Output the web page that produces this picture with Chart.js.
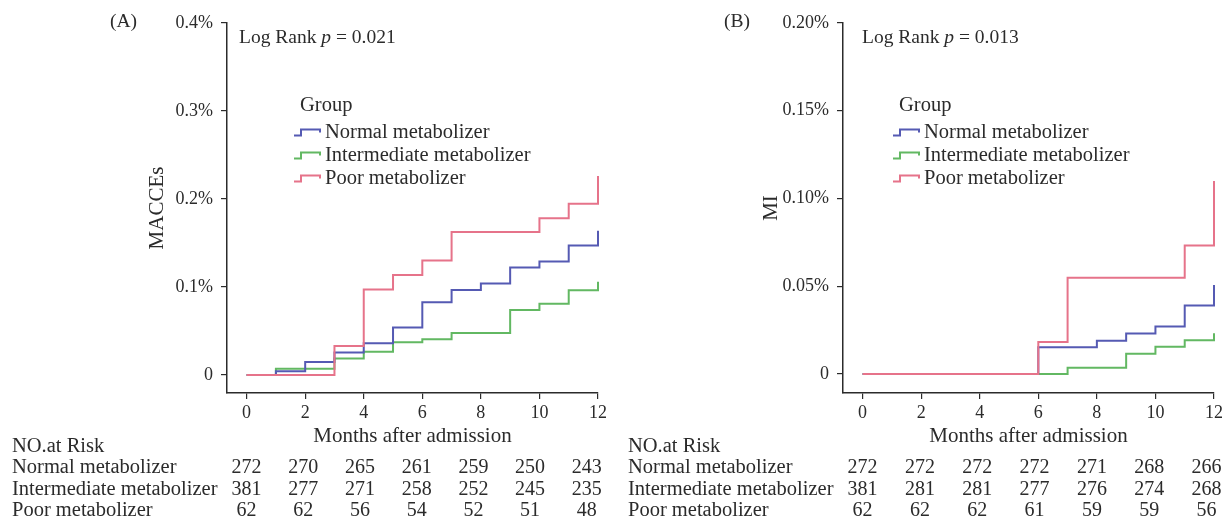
<!DOCTYPE html>
<html>
<head>
<meta charset="utf-8">
<title>MACCEs and MI by metabolizer group</title>
<script src="https://cdn.jsdelivr.net/npm/chart.js@4.4.1/dist/chart.umd.min.js"></script>
<style>
  html, body { margin: 0; padding: 0; background: #fff; }
  #wrap { position: relative; width: 1226px; height: 521px; }
  canvas { position: absolute; top: 0; }
  #chartA { left: 0; }
  #chartB { left: 613px; }
</style>
</head>
<body>
<div id="wrap">
  <canvas id="chartA" width="613" height="521"></canvas>
  <canvas id="chartB" width="613" height="521"></canvas>
</div>
<script>
// --- data (values in %) ---
const months = [0, 1, 2, 3, 4, 5, 6, 7, 8, 9, 10, 11, 12];
const groupNames = ["Normal metabolizer", "Intermediate metabolizer", "Poor metabolizer"];

// (A) MACCEs cumulative incidence
const maccesNormal = [0, 0.0042, 0.0148, 0.0254, 0.036, 0.0538, 0.0826, 0.0966, 0.104, 0.122, 0.129, 0.147, 0.164];
const maccesInter  = [0, 0.0072, 0.0072, 0.0186, 0.0265, 0.0371, 0.0405, 0.0477, 0.0477, 0.0739, 0.081, 0.0962, 0.106];
const maccesPoor   = [0, 0, 0, 0.033, 0.097, 0.1136, 0.130, 0.1625, 0.1625, 0.1625, 0.178, 0.1947, 0.226];

// (B) MI cumulative incidence
const miNormal = [0, 0, 0, 0, 0, 0, 0.0152, 0.0152, 0.0189, 0.0231, 0.0271, 0.039, 0.0508];
const miInter  = [0, 0, 0, 0, 0, 0, 0, 0.0036, 0.0036, 0.0116, 0.0155, 0.0193, 0.0233];
const miPoor   = [0, 0, 0, 0, 0, 0, 0.0182, 0.0549, 0.0549, 0.0549, 0.0549, 0.0733, 0.110];

// tick labels
const xTicks = [0, 2, 4, 6, 8, 10, 12];
const maccesTicks = [0, 0.1, 0.2, 0.3, 0.4];
const miTicks = [0, 0.05, 0.10, 0.15, 0.20];

// numbers at risk
const riskMonths = [0, 2, 4, 6, 8, 10, 12];
const maccesRiskNormal = [272, 270, 265, 261, 259, 250, 243];
const maccesRiskInter  = [381, 277, 271, 258, 252, 245, 235];
const maccesRiskPoor   = [62, 62, 56, 54, 52, 51, 48];
const miRiskNormal = [272, 272, 272, 272, 271, 268, 266];
const miRiskInter  = [381, 281, 281, 277, 276, 274, 268];
const miRiskPoor   = [62, 62, 62, 61, 59, 59, 56];

const colors = ["#555ab3", "#62b862", "#e6738a"];
const FONT = "'Liberation Serif', 'Times New Roman', serif";
const INK = "#2b2b2b";

function toPoints(vals) {
    return months.map((m, i) => ({ x: m, y: vals[i] }));
}

// draws panel letter, log rank text, legend and the at-risk table
const decorPlugin = {
    id: "decor",
    afterDraw(chart) {
        const o = chart.options.plugins.decor;
        const ctx = chart.ctx;
        const xs = chart.scales.x;
        ctx.save();
        ctx.fillStyle = INK;
        ctx.textBaseline = "middle";
        ctx.textAlign = "left";

        ctx.font = "19.5px " + FONT;
        ctx.fillText(o.panel, o.panelX, 22);

        // Log Rank p = ...
        let x = o.logX;
        ctx.fillText("Log Rank ", x, 38);
        x += ctx.measureText("Log Rank ").width;
        ctx.font = "italic 19.5px " + FONT;
        ctx.fillText("p", x, 38);
        x += ctx.measureText("p").width;
        ctx.font = "19.5px " + FONT;
        ctx.fillText(" = " + o.pValue, x, 38);

        // legend
        ctx.font = "20.5px " + FONT;
        ctx.fillText("Group", o.legX + 6, 105.5);
        groupNames.forEach((name, i) => {
            const cy = 132.5 + i * 23;
            const lx = o.legX;
            ctx.strokeStyle = colors[i];
            ctx.lineWidth = 2;
            ctx.beginPath();
            ctx.moveTo(lx, cy + 3);
            ctx.lineTo(lx + 7, cy + 3);
            ctx.lineTo(lx + 7, cy - 3);
            ctx.lineTo(lx + 26, cy - 3);
            ctx.lineTo(lx + 26, cy);
            ctx.stroke();
            ctx.fillText(name, lx + 31, cy);
        });

        // numbers at risk (columns sit slightly inside the month ticks)
        ctx.fillText("NO.at Risk", o.tableX, 447);
        const x0 = xs.getPixelForValue(0);
        o.risk.forEach((row, i) => {
            const cy = 468 + i * 21.5;
            ctx.textAlign = "left";
            ctx.font = "20.5px " + FONT;
            ctx.fillText(groupNames[i], o.tableX, cy);
            ctx.textAlign = "center";
            ctx.font = "20px " + FONT;
            row.forEach((n, j) => {
                const px = x0 + (xs.getPixelForValue(riskMonths[j]) - x0) * o.colSqueeze;
                ctx.fillText(String(n), px, cy);
            });
        });
        ctx.restore();
    }
};

function makeChart(id, cfg) {
    const ds = [cfg.normal, cfg.inter, cfg.poor].map((vals, i) => ({
        label: groupNames[i],
        data: toPoints(vals),
        borderColor: colors[i],
        borderWidth: 2,
        pointRadius: 0,
        stepped: true,
        fill: false,
        clip: false,
        order: [1, 2, 0][i]
    }));

    return new Chart(document.getElementById(id), {
        type: "line",
        data: { datasets: ds },
        plugins: [decorPlugin],
        options: {
            responsive: false,
            animation: false,
            layout: { padding: { left: 0, top: 23, right: cfg.padRight, bottom: 72 } },
            plugins: {
                legend: { display: false },
                tooltip: { enabled: false },
                decor: cfg.decor
            },
            scales: {
                x: {
                    type: "linear",
                    min: -0.67,
                    max: 12,
                    afterBuildTicks: s => { s.ticks = xTicks.map(v => ({ value: v })); },
                    afterFit: s => { s.height = 56; },
                    grid: { display: true, drawOnChartArea: false, tickLength: 6, color: INK, lineWidth: 1.2 },
                    border: { display: true, color: INK, width: 1.5 },
                    ticks: { color: INK, padding: 3, maxRotation: 0, font: { family: FONT, size: 18 } },
                    title: { display: true, text: "Months after admission", color: INK, padding: 0,
                             font: { family: FONT, size: 21, lineHeight: 1.2 } }
                },
                y: {
                    type: "linear",
                    min: cfg.yMin,
                    max: cfg.yMax,
                    afterBuildTicks: s => { s.ticks = cfg.yTicks.map(v => ({ value: v })); },
                    afterFit: s => { s.width = cfg.yWidth; },
                    grid: { display: true, drawOnChartArea: false, tickLength: 6, color: INK, lineWidth: 1.2 },
                    border: { display: true, color: INK, width: 1.5 },
                    ticks: { color: INK, padding: 8, font: { family: FONT, size: 18 }, callback: cfg.fmt },
                    title: { display: true, text: cfg.yTitle, color: INK,
                             padding: { top: cfg.yTitleX - 12.6, bottom: 0 },
                             font: { family: FONT, size: 21, lineHeight: 1.2 } }
                }
            }
        }
    });
}

makeChart("chartA", {
    normal: maccesNormal, inter: maccesInter, poor: maccesPoor,
    yMin: -0.0205, yMax: 0.4, yTicks: maccesTicks, yWidth: 227, padRight: 15,
    yTitle: "MACCEs", yTitleX: 157,
    fmt: v => v === 0 ? "0" : v.toFixed(1) + "%",
    decor: { panel: "(A)", panelX: 110, logX: 239, pValue: "0.021", legX: 294, tableX: 12,
             colSqueeze: 0.968, risk: [maccesRiskNormal, maccesRiskInter, maccesRiskPoor] }
});

makeChart("chartB", {
    normal: miNormal, inter: miInter, poor: miPoor,
    yMin: -0.0108, yMax: 0.2, yTicks: miTicks, yWidth: 230, padRight: 12,
    yTitle: "MI", yTitleX: 158,
    fmt: v => v === 0 ? "0" : v.toFixed(2) + "%",
    decor: { panel: "(B)", panelX: 111, logX: 249, pValue: "0.013", legX: 280, tableX: 15,
             colSqueeze: 0.979, risk: [miRiskNormal, miRiskInter, miRiskPoor] }
});
</script>
</body>
</html>
